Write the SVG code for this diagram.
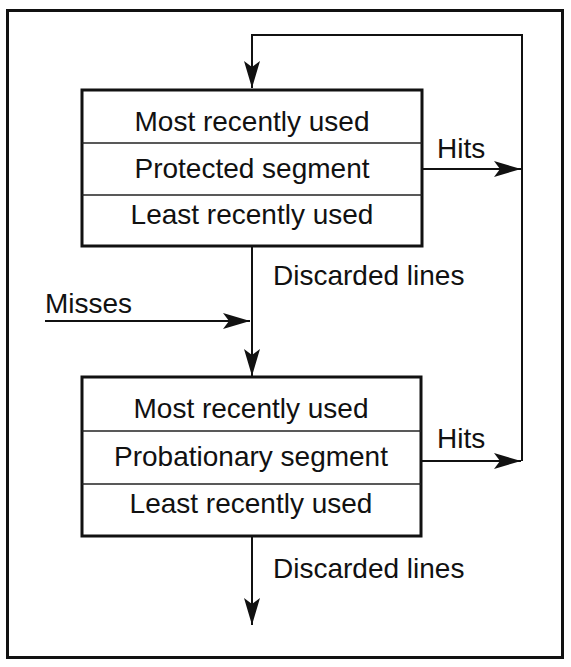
<svg xmlns="http://www.w3.org/2000/svg" width="571" height="667" viewBox="0 0 571 667">
<defs>
<style>
text{font-family:"Liberation Sans",Arial,Helvetica,sans-serif;font-size:28px;fill:#111;}
.c{text-anchor:middle;}
.box{fill:#fff;stroke:#111;stroke-width:3;}
.div{stroke:#222;stroke-width:1.3;}
.con{fill:none;stroke:#111;stroke-width:2;}
</style>
<marker id="ah" markerUnits="userSpaceOnUse" markerWidth="30" markerHeight="18" refX="27" refY="9" orient="auto">
<path d="M0,1 L27,9 L0,17 L6,9 Z" fill="#111"/>
</marker>
</defs>
<rect id="frame" x="7.5" y="10.5" width="555" height="647" fill="none" stroke="#111" stroke-width="3"/>
<g id="protected">
<rect class="box" x="82" y="90" width="340" height="156"/>
<line class="div" x1="82" y1="143" x2="422" y2="143"/>
<line class="div" x1="82" y1="195" x2="422" y2="195"/>
<text class="c" x="252" y="131">Most recently used</text>
<text class="c" x="252" y="178">Protected segment</text>
<text class="c" x="252" y="224">Least recently used</text>
</g>
<g id="probationary">
<rect class="box" x="82" y="377" width="339" height="159"/>
<line class="div" x1="82" y1="431" x2="421" y2="431"/>
<line class="div" x1="82" y1="484" x2="421" y2="484"/>
<text class="c" x="251" y="418">Most recently used</text>
<text class="c" x="251" y="466">Probationary segment</text>
<text class="c" x="251" y="513">Least recently used</text>
</g>
<g id="connectors">
<path class="con" d="M522,461 L522,35 L252,35 L252,88" marker-end="url(#ah)"/>
<path class="con" d="M422,169 L521,169" marker-end="url(#ah)"/>
<path class="con" d="M421,461 L521,461" marker-end="url(#ah)"/>
<path class="con" d="M252,246 L252,376" marker-end="url(#ah)"/>
<path class="con" d="M45,321 L250,321" marker-end="url(#ah)"/>
<path class="con" d="M252,536 L252,625" marker-end="url(#ah)"/>
</g>
<g id="labels">
<text x="437" y="158">Hits</text>
<text x="437" y="448">Hits</text>
<text x="273" y="285">Discarded lines</text>
<text x="273" y="578">Discarded lines</text>
<text x="45" y="313">Misses</text>
</g>
</svg>
